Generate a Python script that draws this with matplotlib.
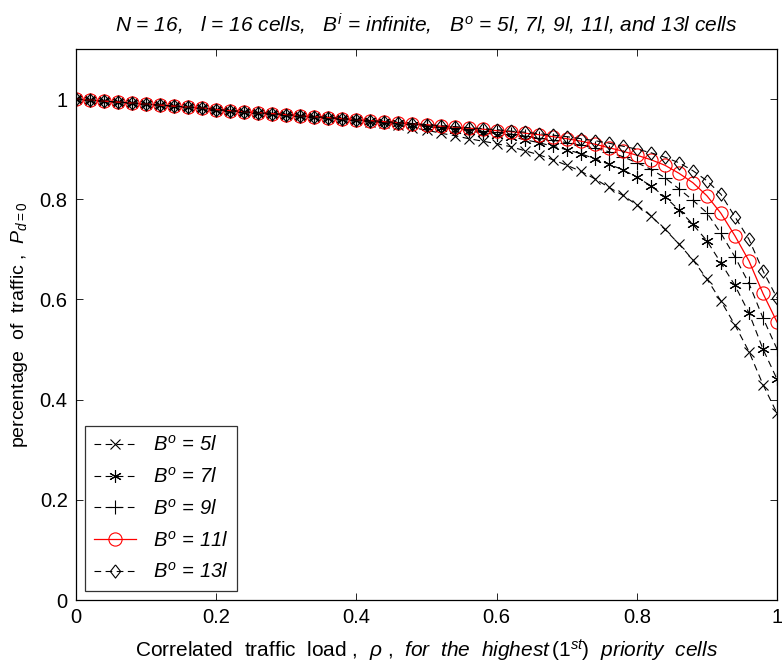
import matplotlib
matplotlib.use('Agg')
import matplotlib.pyplot as plt
from matplotlib import font_manager

# ---------------- font setup ----------------
# the original looks like narrow Helvetica; use a narrow face if there is one
base_font = 'Liberation Sans'
for cand in ['Liberation Sans Narrow', 'Arial Narrow']:
    try:
        font_manager.findfont(cand, fallback_to_default=False)
        base_font = cand
        break
    except ValueError:
        pass

plt.rcParams['font.family'] = [base_font, 'DejaVu Sans']
plt.rcParams['mathtext.fontset'] = 'custom'
plt.rcParams['mathtext.rm'] = base_font
plt.rcParams['mathtext.it'] = base_font + ':italic'
plt.rcParams['mathtext.bf'] = base_font + ':bold'

# ---------------- data ----------------
rho = [0.00, 0.02, 0.04, 0.06, 0.08, 0.10, 0.12, 0.14, 0.16, 0.18,
       0.20, 0.22, 0.24, 0.26, 0.28, 0.30, 0.32, 0.34, 0.36, 0.38,
       0.40, 0.42, 0.44, 0.46, 0.48, 0.50, 0.52, 0.54, 0.56, 0.58,
       0.60, 0.62, 0.64, 0.66, 0.68, 0.70, 0.72, 0.74, 0.76, 0.78,
       0.80, 0.82, 0.84, 0.86, 0.88, 0.90, 0.92, 0.94, 0.96, 0.98, 1.00]

p_5l = [1.000, 0.998, 0.996, 0.994, 0.992, 0.990, 0.988, 0.986, 0.984, 0.982,
        0.979, 0.977, 0.975, 0.973, 0.971, 0.969, 0.967, 0.965, 0.963, 0.961,
        0.958, 0.955, 0.952, 0.948, 0.943, 0.938, 0.932, 0.927, 0.921, 0.916,
        0.911, 0.905, 0.897, 0.889, 0.879, 0.868, 0.856, 0.841, 0.824, 0.808,
        0.789, 0.767, 0.740, 0.711, 0.679, 0.641, 0.597, 0.549, 0.496, 0.430, 0.373]

p_7l = [1.000, 0.998, 0.996, 0.994, 0.992, 0.990, 0.988, 0.986, 0.984, 0.982,
        0.979, 0.977, 0.975, 0.973, 0.971, 0.969, 0.967, 0.965, 0.963, 0.961,
        0.959, 0.957, 0.955, 0.952, 0.949, 0.945, 0.942, 0.939, 0.936, 0.933,
        0.929, 0.925, 0.919, 0.913, 0.906, 0.899, 0.891, 0.881, 0.870, 0.859,
        0.844, 0.827, 0.805, 0.779, 0.750, 0.717, 0.673, 0.628, 0.573, 0.501, 0.441]

p_9l = [1.000, 0.998, 0.996, 0.994, 0.992, 0.990, 0.988, 0.986, 0.984, 0.982,
        0.979, 0.977, 0.975, 0.973, 0.971, 0.969, 0.967, 0.965, 0.963, 0.961,
        0.959, 0.957, 0.955, 0.953, 0.951, 0.948, 0.945, 0.942, 0.940, 0.937,
        0.934, 0.930, 0.926, 0.922, 0.918, 0.913, 0.908, 0.902, 0.895, 0.885,
        0.873, 0.860, 0.843, 0.821, 0.798, 0.773, 0.732, 0.685, 0.632, 0.563, 0.501]

p_11l = [1.000, 0.998, 0.996, 0.994, 0.992, 0.990, 0.988, 0.986, 0.984, 0.982,
         0.979, 0.977, 0.975, 0.973, 0.971, 0.969, 0.967, 0.965, 0.963, 0.961,
         0.959, 0.957, 0.955, 0.953, 0.951, 0.949, 0.946, 0.944, 0.942, 0.940,
         0.937, 0.935, 0.932, 0.929, 0.925, 0.921, 0.916, 0.910, 0.903, 0.896,
         0.888, 0.879, 0.868, 0.852, 0.833, 0.807, 0.772, 0.727, 0.677, 0.612, 0.555]

p_13l = [1.000, 0.998, 0.996, 0.994, 0.992, 0.990, 0.988, 0.986, 0.984, 0.982,
         0.979, 0.977, 0.975, 0.973, 0.971, 0.969, 0.967, 0.965, 0.963, 0.961,
         0.959, 0.957, 0.955, 0.953, 0.951, 0.949, 0.947, 0.945, 0.943, 0.941,
         0.939, 0.936, 0.934, 0.931, 0.928, 0.925, 0.921, 0.917, 0.912, 0.906,
         0.900, 0.893, 0.884, 0.873, 0.857, 0.837, 0.810, 0.765, 0.720, 0.657, 0.603]

labels = ['$B^o$ = 5l', '$B^o$ = 7l', '$B^o$ = 9l', '$B^o$ = 11l', '$B^o$ = 13l']

# ---------------- figure ----------------
fig = plt.figure(figsize=(7.82, 6.71), dpi=100)
ax = fig.add_axes([0.0972, 0.1058, 0.8964, 0.8212])

dash = (0, (6, 4))
diamond = [(0, 1), (0.78, 0), (0, -1), (-0.78, 0), (0, 1)]
ax.plot(rho, p_5l, color='k', ls=dash, lw=0.8, marker='x', ms=7.5, mew=0.8, label=labels[0])
ax.plot(rho, p_7l, color='k', ls=dash, lw=0.8, marker=(6, 2, 0), ms=9, mew=0.8, label=labels[1])
ax.plot(rho, p_9l, color='k', ls=dash, lw=0.8, marker='+', ms=10, mew=0.8, label=labels[2])
ax.plot(rho, p_11l, color='red', ls='-', lw=0.9, marker='o', ms=9.5, mew=0.8,
        mfc='none', label=labels[3])
ax.plot(rho, p_13l, color='k', ls=dash, lw=0.8, marker=diamond, ms=9.5, mew=0.8,
        mfc='none', label=labels[4])

# ------ axes ------
ax.set_xlim(0, 1)
ax.set_ylim(0, 1.1)
ax.set_xticks([0, 0.2, 0.4, 0.6, 0.8, 1])
ax.set_xticklabels(['0', '0.2', '0.4', '0.6', '0.8', '1'])
ax.set_yticks([0, 0.2, 0.4, 0.6, 0.8, 1])
ax.set_yticklabels(['0', '0.2', '0.4', '0.6', '0.8', '1'])
ax.tick_params(direction='in', top=True, right=True, length=5, width=0.6,
               labelsize=14.5, pad=6)
for s in ax.spines.values():
    s.set_linewidth(0.9)

# ------ labels ------
ax.set_title('N = 16,   l = 16 cells,   $B^i$ = infinite,   $B^o$ = 5l, 7l, 9l, 11l, and 13l cells',
             fontsize=15, style='italic', pad=12)
ax.set_xlabel(r'Correlated  traffic  load ,  $\rho$ ,  $for\ \ the\ \ highest\,(1^{st})\ \ priority\ \ cells$',
              fontsize=15, labelpad=7)
ax.set_ylabel(r'percentage  of  traffic ,  $\mathit{P_{d=0}}$', fontsize=14, labelpad=7)

# ------ legend ------
leg = ax.legend(loc='lower left', prop={'size': 14.5, 'style': 'italic'}, frameon=True,
                fancybox=False, edgecolor='k', handlelength=2.1, handletextpad=0.8,
                labelspacing=0.58, borderaxespad=0.45, borderpad=0.45)
leg.get_frame().set_linewidth(0.9)

plt.savefig('out.png', dpi=100)
